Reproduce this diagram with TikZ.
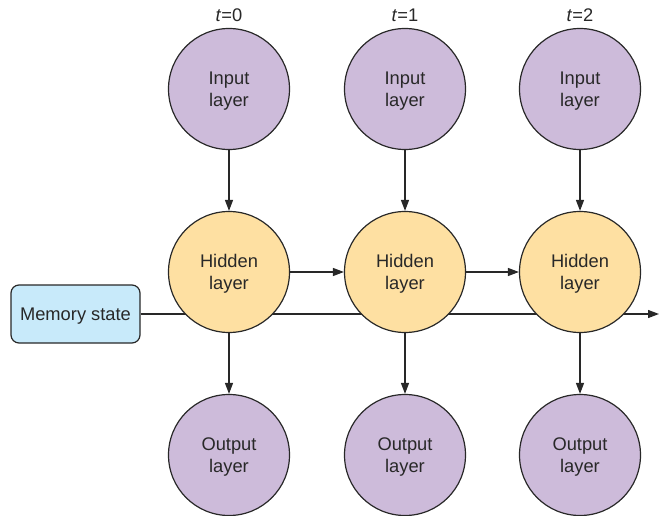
\documentclass[tikz,border=0pt]{standalone}
\usepackage{fontspec}
\setmainfont{Liberation Sans}
\usetikzlibrary{arrows.meta}
\definecolor{inpc}{RGB}{205,187,218}
\definecolor{hidc}{RGB}{254,224,162}
\definecolor{memc}{RGB}{200,234,250}
\definecolor{linec}{RGB}{40,40,40}
\newcommand\twoline[2]{\raisebox{-2.5pt}[\height][\depth]{\begin{tabular}{@{}c@{}}#1\\#2\end{tabular}}}
\newcommand\lowered[1]{\raisebox{-2.5pt}[\height][\depth]{#1}}
\tikzset{
  layer/.style={circle,draw=linec,text=linec,line width=1.2pt,minimum size=121pt,inner sep=0pt,font=\fontsize{18.3}{22}\selectfont},
  inlayer/.style={layer,fill=inpc},
  hidlayer/.style={layer,fill=hidc},
  memstate/.style={draw=linec,text=linec,line width=1.2pt,fill=memc,rounded corners=8pt,minimum width=129pt,minimum height=58pt,font=\fontsize{18.3}{22}\selectfont},
  conn/.style={draw=linec,line width=1.3pt,-{Triangle[length=11pt,width=8pt]}},
  tlab/.style={text=linec,font=\fontsize{18.3}{22}\selectfont}
}
\begin{document}
\begin{tikzpicture}[x=1pt,y=-1pt]
\useasboundingbox (0,0) rectangle (659,516);
\node[memstate] (mem) at (75.5,314) {\lowered{Memory state}};
\coordinate (memend) at (659,314);
\draw[conn] (mem.east) -- (memend);
\foreach \i/\x in {0/229,1/405,2/580}{
  \node[tlab] (t\i) at (\x,15) {\textit{t}=\i};
  \node[inlayer] (in\i) at (\x,89) {\twoline{Input}{layer}};
  \node[hidlayer] (hid\i) at (\x,272) {\twoline{Hidden}{layer}};
  \node[inlayer] (out\i) at (\x,455) {\twoline{Output}{layer}};
  \draw[conn] (in\i) -- (hid\i);
  \draw[conn] (hid\i) -- (out\i);
}
\draw[conn] (hid0) -- (hid1);
\draw[conn] (hid1) -- (hid2);
\end{tikzpicture}
\end{document}
